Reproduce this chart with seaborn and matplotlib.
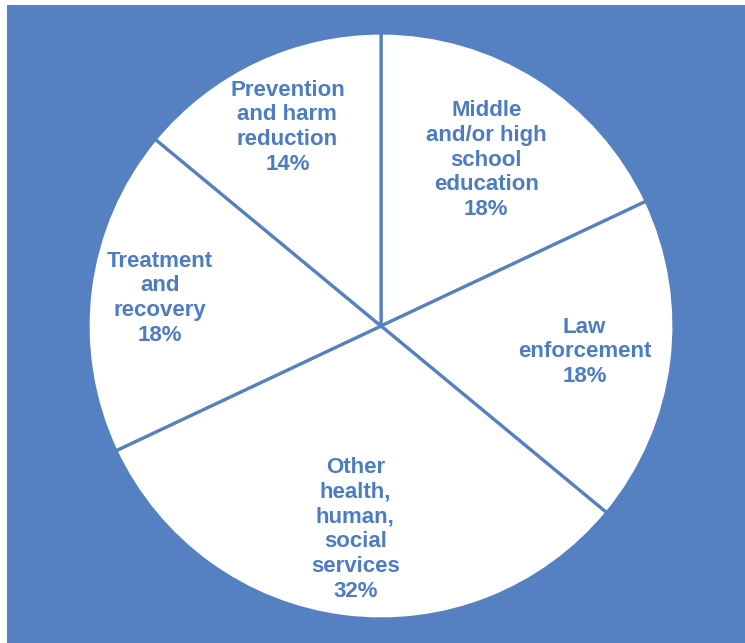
import matplotlib
matplotlib.use("Agg")
import matplotlib.pyplot as plt
import seaborn as sns
import numpy as np

# Funding shares by category (clockwise from top)
categories = [
    "Middle\nand/or high\nschool\neducation",
    "Law\nenforcement",
    "Other\nhealth,\nhuman,\nsocial\nservices",
    "Treatment\nand\nrecovery",
    "Prevention\nand harm\nreduction",
]
shares = [18, 18, 32, 18, 14]

# how far out each label sits (fraction of radius)
label_dist = [0.67, 0.70, 0.70, 0.76, 0.75]

sns.set_theme(style="white")
plt.rcParams['font.family'] = ['Liberation Sans', 'DejaVu Sans']

blue = "#5580C1"
text_blue = "#4C7CC4"

fig = plt.figure(figsize=(7.45, 6.43), dpi=100, facecolor="white")

# blue panel behind the pie
bg = fig.add_axes([7 / 745, 0, 738 / 745, 638 / 643])
bg.set_facecolor(blue)
bg.set_xticks([])
bg.set_yticks([])
for s in bg.spines.values():
    s.set_visible(False)

# pie axes: center (381, 326) px, radius 293 px
r = 293
cx, cy = 381, 326
ax = fig.add_axes([(cx - r) / 745, (643 - cy - r) / 643, 2 * r / 745, 2 * r / 643])
ax.set_facecolor("none")

labels = [f"{c}\n{v}%" for c, v in zip(categories, shares)]
wedges, texts = ax.pie(
    shares,
    labels=labels,
    startangle=90,
    counterclock=False,
    colors=["white"] * len(shares),
    labeldistance=0.72,
    wedgeprops=dict(edgecolor=blue, linewidth=2.3),
    textprops=dict(color=text_blue, fontsize=16, fontweight="bold",
                   ha="center", va="center", linespacing=1.23),
)

for w, t, d in zip(wedges, texts, label_dist):
    ang = np.deg2rad((w.theta1 + w.theta2) / 2)
    t.set_position((d * np.cos(ang), d * np.sin(ang)))
    t.set_ha("center")
    t.set_va("center")
    t.set_multialignment("center")

ax.set_xlim(-1, 1)
ax.set_ylim(-1, 1)
ax.set_aspect("auto")

fig.savefig("out.png", dpi=100, facecolor="white")
